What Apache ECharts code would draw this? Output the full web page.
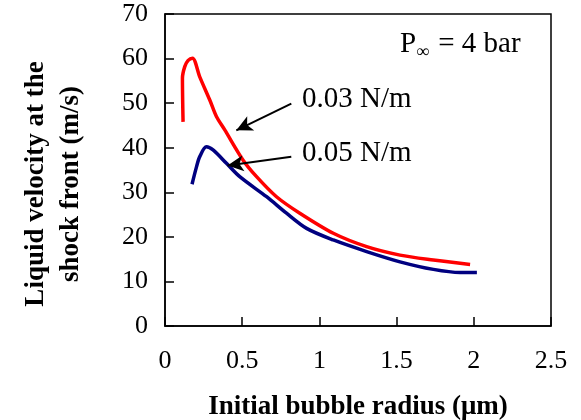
<!DOCTYPE html>
<html><head><meta charset="utf-8">
<script src="https://cdn.jsdelivr.net/npm/echarts@6/dist/echarts.min.js"></script>
<style>html,body{margin:0;padding:0;background:#fff}#c{width:581px;height:420px}</style>
</head><body><div id="c"></div>
<script>
// Data
var radius003 = [0.117, 0.113, 0.128, 0.150, 0.178, 0.225, 0.29, 0.333, 0.387, 0.506, 0.593, 0.722, 0.873, 1.09, 1.306, 1.522, 1.738, 1.976];
var vel003    = [45.8, 55.6, 58.2, 59.6, 60.1, 55.9, 50.7, 47.0, 44.0, 37.2, 33.5, 29.0, 25.3, 20.8, 17.8, 15.9, 14.8, 13.8];
var radius005 = [0.175, 0.204, 0.225, 0.268, 0.311, 0.398, 0.484, 0.658, 0.787, 0.917, 1.09, 1.306, 1.522, 1.738, 1.911, 2.02];
var vel005    = [31.8, 35.7, 38.0, 40.2, 39.5, 36.5, 33.5, 29.0, 25.3, 21.9, 19.3, 16.7, 14.4, 12.7, 12.0, 12.0];
var xTicks = [0, 0.5, 1, 1.5, 2, 2.5];
var yTicks = [0, 10, 20, 30, 40, 50, 60, 70];
var seriesNames = ['0.03 N/m', '0.05 N/m'];
var arrow003 = [[0.818, 49.9], [0.462, 43.9]];
var arrow005 = [[0.818, 37.98], [0.405, 36.0]];

function zip(a, b) { return a.map(function (v, i) { return [v, b[i]]; }); }
var F = '"Liberation Serif", "Times New Roman", serif';
var chart = echarts.init(document.getElementById('c'), null, {renderer: 'canvas'});
chart.setOption({
  animation: false,
  grid: {left: 165, right: 30, top: 14, bottom: 94, containLabel: false, outerBoundsMode: 'none',
         show: true, borderColor: '#000', borderWidth: 1.5, backgroundColor: 'transparent'},
  xAxis: {
    type: 'value', min: xTicks[0], max: xTicks[xTicks.length - 1], interval: 0.5,
    name: 'Initial bubble radius (\u03bcm)', nameLocation: 'middle', nameGap: 68,
    nameTextStyle: {fontFamily: F, fontSize: 27, fontWeight: 'bold', color: '#000'},
    axisLine: {show: true, onZero: false, lineStyle: {color: '#000', width: 1.5}},
    axisTick: {show: true, inside: true, length: 9, lineStyle: {color: '#000', width: 1.5}},
    axisLabel: {fontFamily: F, fontSize: 26, color: '#000', margin: 22},
    splitLine: {show: false}
  },
  yAxis: {
    type: 'value', min: yTicks[0], max: yTicks[yTicks.length - 1], interval: 10,
    name: 'Liquid velocity at the\nshock front (m/s)', nameLocation: 'middle', nameGap: 76,
    nameTextStyle: {fontFamily: F, fontSize: 27, fontWeight: 'bold', color: '#000', lineHeight: 35, padding: [0, 28, 0, 0]},
    axisLine: {show: true, lineStyle: {color: '#000', width: 1.5}},
    axisTick: {show: true, inside: true, length: 9, lineStyle: {color: '#000', width: 1.5}},
    axisLabel: {fontFamily: F, fontSize: 26, color: '#000', margin: 17},
    splitLine: {show: false}
  },
  series: [
    {
      name: seriesNames[0], type: 'line', data: zip(radius003, vel003), showSymbol: false, smooth: 0.3,
      lineStyle: {color: '#ff0000', width: 3.5},
      markLine: {
        silent: true, symbol: ['none', 'arrow'], symbolSize: [12, 16],
        lineStyle: {color: '#000', width: 2, type: 'solid'}, label: {show: false},
        data: [[{coord: arrow003[0]}, {coord: arrow003[1]}]]
      }
    },
    {
      name: seriesNames[1], type: 'line', data: zip(radius005, vel005), showSymbol: false, smooth: 0.3,
      lineStyle: {color: '#000080', width: 3.5},
      markLine: {
        silent: true, symbol: ['none', 'arrow'], symbolSize: [12, 16],
        lineStyle: {color: '#000', width: 2, type: 'solid'}, label: {show: false},
        data: [[{coord: arrow005[0]}, {coord: arrow005[1]}]]
      }
    }
  ],
  graphic: [
    {type: 'text', left: 302, top: 85, style: {text: seriesNames[0], font: '29px ' + F, fill: '#000'}},
    {type: 'text', left: 302, top: 139, style: {text: seriesNames[1], font: '29px ' + F, fill: '#000'}},
    {type: 'text', left: 400, top: 30, style: {
      text: '{p|P}{s|\u221e}{p| = 4 bar}',
      rich: {p: {fontFamily: F, fontSize: 29, fill: '#000'}, s: {fontFamily: F, fontSize: 18, fill: '#000', padding: [16, 2, 0, 0]}}
    }}
  ]
});
</script></body></html>
